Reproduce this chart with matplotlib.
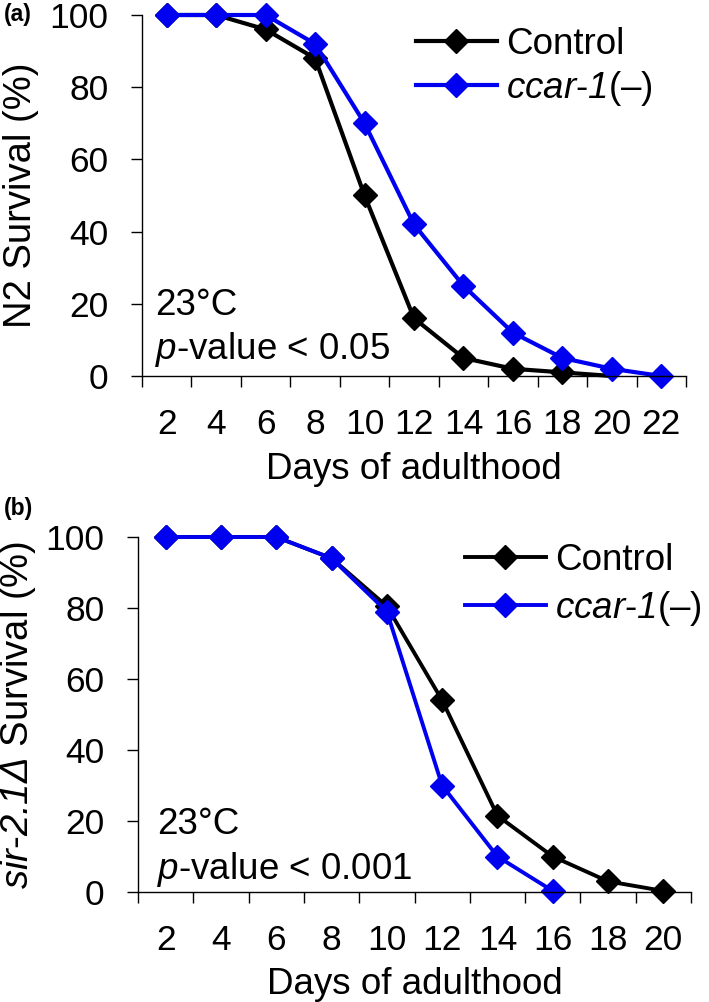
import numpy as np
import matplotlib
matplotlib.use("Agg")
import matplotlib.pyplot as plt

plt.rcParams['font.family'] = ['Liberation Sans', 'DejaVu Sans']
plt.rcParams['mathtext.fontset'] = 'custom'
# everything written inside $...$ is italic (gene names, p)
plt.rcParams['mathtext.rm'] = 'Liberation Sans:italic'
plt.rcParams['mathtext.it'] = 'Liberation Sans:italic'

# panel (a): N2 background
days_a = [2, 4, 6, 8, 10, 12, 14, 16, 18, 20, 22]
control_a = [100, 100, 96, 88, 50, 16, 5, 2, 1, 0]
ccar_a = [100, 100, 100, 92, 70, 42, 25, 12, 5, 2, 0]

# panel (b): sir-2.1 deletion
days_b = [2, 4, 6, 8, 10, 12, 14, 16, 18, 20]
control_b = [100, 100, 100, 94, 80.5, 54, 21.5, 10, 3, 0.3]
ccar_b = [100, 100, 100, 94, 79, 30, 10, 0.3]

blue = '#0000F0'
ccar_label = r'$ccar$' + '-' + r'$1$' + '(–)'

W, H = 709, 1002
fig = plt.figure(figsize=(W / 100, H / 100), dpi=100)


def px_axes(l, r, t, b):
    # pixel box -> figure fraction
    return fig.add_axes([l / W, 1 - b / H, (r - l) / W, (b - t) / H])


def style_axis(ax, days):
    n = len(days)
    ax.set_xlim(-0.5, n - 0.5)
    ax.set_ylim(0, 100)
    for s in ['top', 'right']:
        ax.spines[s].set_visible(False)
    for s in ['left', 'bottom']:
        ax.spines[s].set_linewidth(1.0)
    ax.set_xticks(np.arange(n + 1) - 0.5)
    ax.set_xticklabels([])
    ax.set_xticks(np.arange(n), minor=True)
    ax.set_xticklabels([str(d) for d in days], minor=True)
    ax.tick_params(axis='x', which='major', direction='out', length=8, width=1.0)
    ax.tick_params(axis='x', which='minor', length=0, pad=23, labelsize=25.5)
    ax.set_yticks([0, 20, 40, 60, 80, 100])
    ax.tick_params(axis='y', direction='out', length=8, width=1.0, pad=16, labelsize=25.5)


# ---- (a)
ax1 = px_axes(142, 686, 15, 376)
ax1.plot(np.arange(len(control_a)), control_a, color='black', lw=3.0, marker='D',
         ms=12, markevery=list(range(len(control_a) - 1)), clip_on=False, label='Control')
ax1.plot(np.arange(len(ccar_a)), ccar_a, color=blue, lw=3.0, marker='D', ms=12,
         clip_on=False, label=ccar_label)
style_axis(ax1, days_a)
ax1.set_ylabel('N2 Survival (%)', fontsize=27.5)
ax1.yaxis.set_label_coords(-0.19, 0.5)
ax1.set_xlabel('Days of adulthood', fontsize=26.5, va='center')
ax1.xaxis.set_label_coords(0.5, -0.258)
ax1.text(0.024, 0.169, '23°C', transform=ax1.transAxes, fontsize=26.5, va='baseline')
ax1.text(0.024, 0.048, r'$p$-value < 0.05', transform=ax1.transAxes,
         fontsize=26.5, va='baseline')
ax1.legend(loc='upper left', bbox_to_anchor=(416 / W, 1 - 27 / H),
           bbox_transform=fig.transFigure, frameon=False, fontsize=26.5,
           handlelength=2.2, handletextpad=0.25, borderpad=0, borderaxespad=0,
           labelspacing=0.18)
fig.text(4 / W, 1 - 14 / H, '(a)', fontsize=16.5, fontweight='bold', va='center')

# ---- (b)
ax2 = px_axes(138, 691, 537, 892)
ax2.plot(np.arange(len(control_b)), control_b, color='black', lw=2.8, marker='D',
         ms=12, clip_on=False, label='Control')
ax2.plot(np.arange(len(ccar_b)), ccar_b, color=blue, lw=2.8, marker='D', ms=12,
         clip_on=False, label=ccar_label)
style_axis(ax2, days_b)
ax2.set_ylabel(r'$sir$' + '-' + r'$2.1\Delta$' + ' Survival (%)', fontsize=27.5)
ax2.yaxis.set_label_coords(-0.18, 0.5)
ax2.set_xlabel('Days of adulthood', fontsize=26.5, va='center')
ax2.xaxis.set_label_coords(0.5, -0.26)
ax2.text(0.034, 0.163, '23°C', transform=ax2.transAxes, fontsize=26.5, va='baseline')
ax2.text(0.034, 0.037, r'$p$-value < 0.001', transform=ax2.transAxes,
         fontsize=26.5, va='baseline')
ax2.legend(loc='upper left', bbox_to_anchor=(465 / W, 1 - 543 / H),
           bbox_transform=fig.transFigure, frameon=False, fontsize=26.5,
           handlelength=2.2, handletextpad=0.25, borderpad=0, borderaxespad=0,
           labelspacing=0.3)
fig.text(4 / W, 1 - 509 / H, '(b)', fontsize=16.5, fontweight='bold', va='center')

fig.savefig('out.png', dpi=100)
